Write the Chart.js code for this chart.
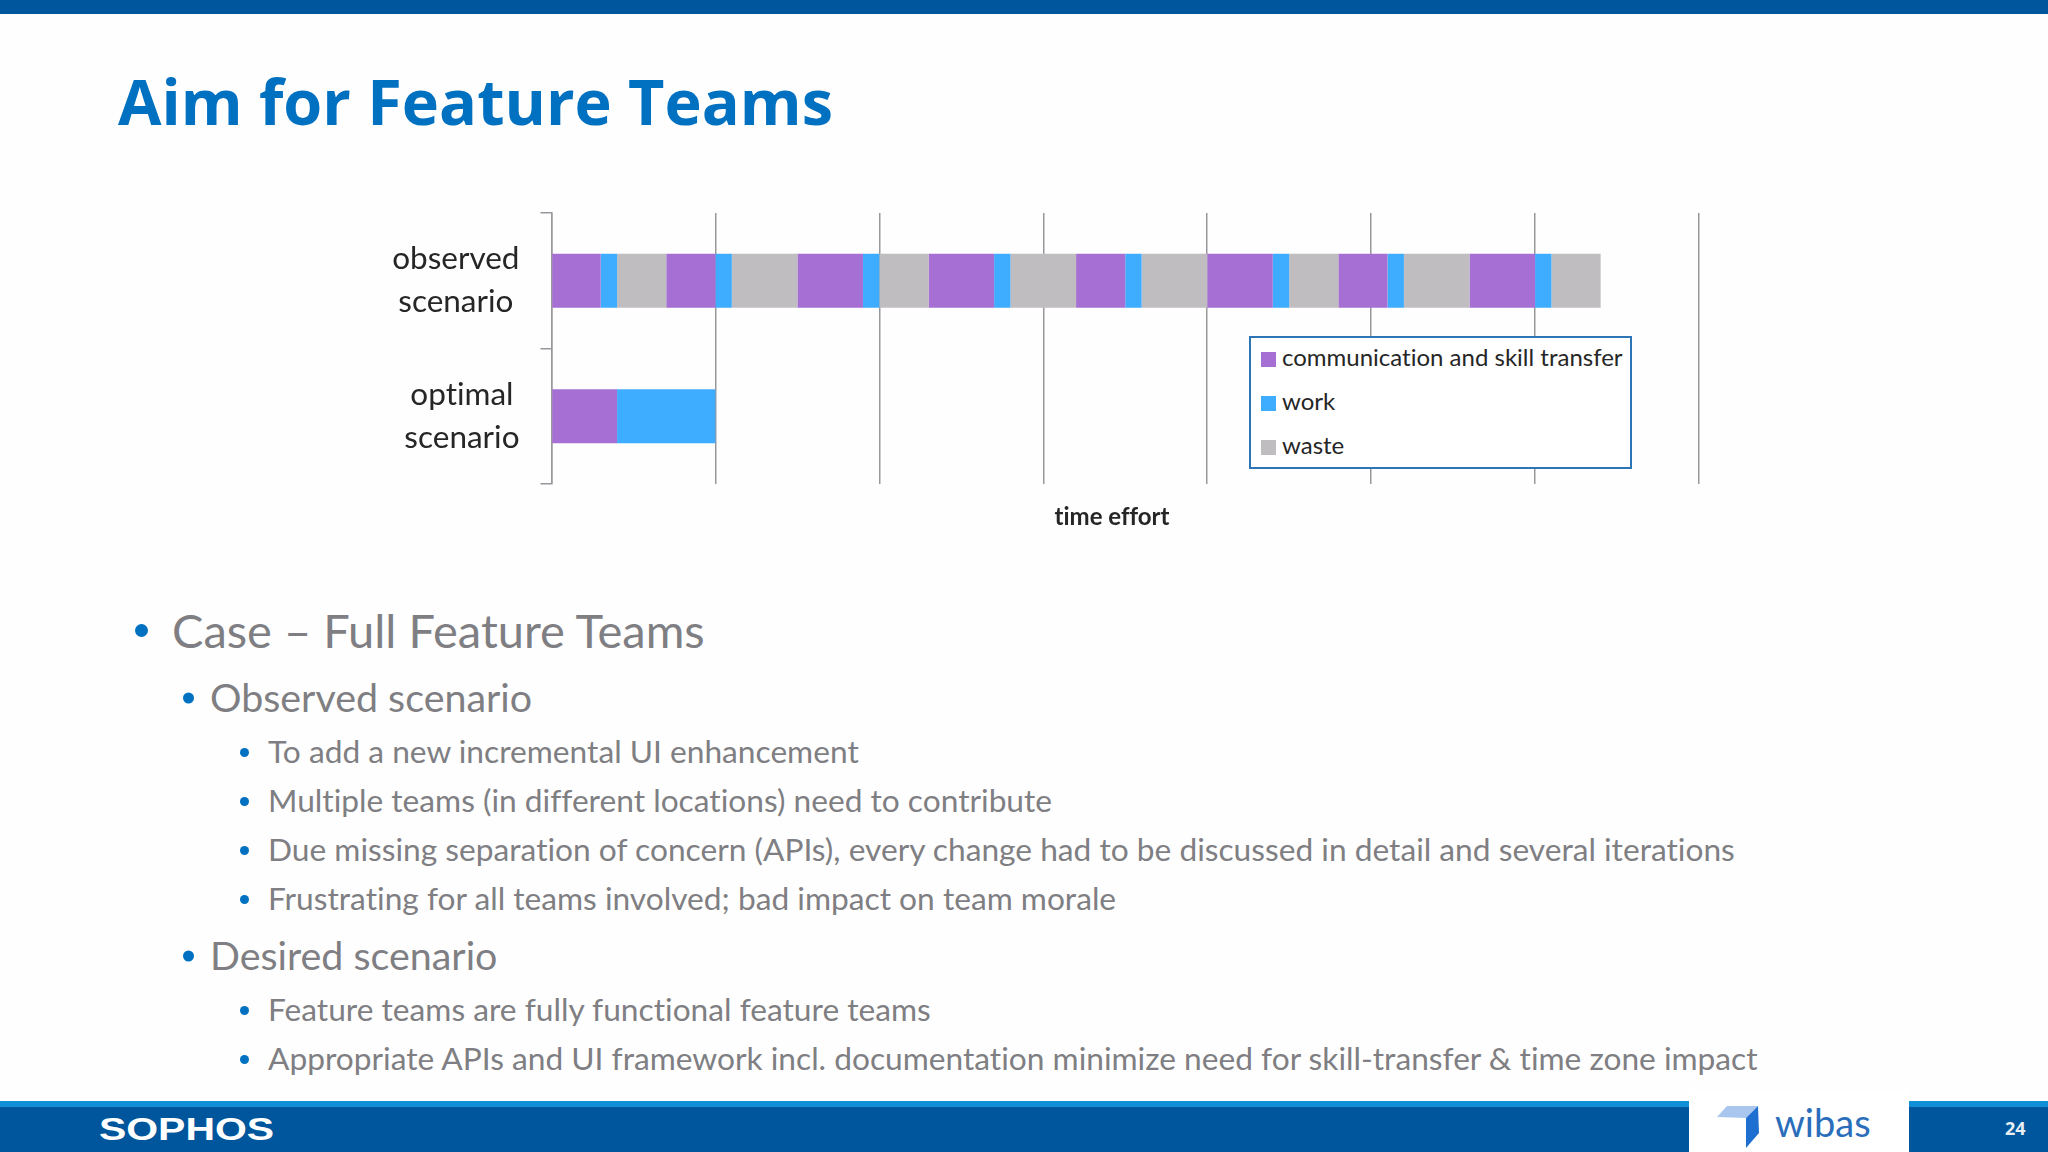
<!DOCTYPE html>
<html>
<head>
<meta charset="utf-8">
<title>Aim for Feature Teams</title>
<script src="https://cdn.jsdelivr.net/npm/chart.js@4/dist/chart.umd.min.js"></script>
<style>
  html, body { margin: 0; padding: 0; background: #fefefe; }
  #slide { position: relative; width: 2048px; height: 1152px; overflow: hidden; font-family: Lato, sans-serif; font-variant-ligatures: none; }
  #topbar { position: absolute; left: 0; top: 0; width: 2048px; height: 14px; background: #00569c; }
  h1 { position: absolute; left: 118px; top: 59px; margin: 0; font: bold 63px "Open Sans", sans-serif; line-height: 84px; color: #0070c0; white-space: nowrap; }
  #chart { position: absolute; left: 360px; top: 200px; }

  #legend { position: absolute; left: 1249px; top: 336px; width: 379px; height: 129px; background: #fff; border: 2px solid #2e75b6; }
  .legend-item { position: absolute; left: 10px; height: 28px; line-height: 28px; font-size: 24px; color: #262626; white-space: nowrap; }
  .legend-item i { display: inline-block; width: 15px; height: 15px; margin-right: 6px; vertical-align: -1px; }

  .line { position: absolute; white-space: nowrap; color: #7f7f83; transform: translateY(-50%); }
  .line::before { content: ""; position: absolute; border-radius: 50%; background: #0070c0; }
  .l1 { left: 172px; font-size: 47px; }
  .l1::before { left: -37px; top: 50%; width: 13px; height: 13px; margin-top: -6px; }
  .l2 { left: 210px; font-size: 39.4px; }
  .l2::before { left: -27px; top: 50%; width: 11px; height: 11px; margin-top: -4px; }
  .l3 { left: 268px; font-size: 31.7px; }
  .l3::before { left: -28px; top: 50%; width: 9px; height: 9px; margin-top: -3px; }

  #footer { position: absolute; left: 0; top: 1101px; width: 2048px; height: 51px; background: #00569c; border-top: 6px solid #0f8fd6; box-sizing: border-box; }
  #logo-gap { position: absolute; left: 1689px; top: 1090px; width: 220px; height: 62px; background: #fff; }
  #sophos { position: absolute; left: 99px; top: 1115px; font: bold 31px "Liberation Sans", sans-serif; line-height: 30px; color: #fff; transform-origin: left center; transform: scaleX(1.32); }
  #wibas-mark { position: absolute; left: 1716px; top: 1100px; }
  #wibas { position: absolute; left: 1775px; top: 1099px; font-size: 38px; line-height: 46px; color: #2a6ebb; }
  #page { position: absolute; left: 2005px; top: 1116px; font: bold 18px "Open Sans", sans-serif; line-height: 24px; color: #e8eef5; }
</style>
</head>
<body>
<div id="slide">
  <div id="topbar"></div>
  <h1>Aim for Feature Teams</h1>
  <canvas id="chart" width="1504" height="341"></canvas>
  <div id="legend"></div>

  <div class="line l1" style="top:630px">Case – Full Feature Teams</div>
  <div class="line l2" style="top:696px">Observed scenario</div>
  <div class="line l3" style="top:751px">To add a new incremental UI enhancement</div>
  <div class="line l3" style="top:800px">Multiple teams (in different locations) need to contribute</div>
  <div class="line l3" style="top:849px">Due missing separation of concern (APIs), every change had to be discussed in detail and several iterations</div>
  <div class="line l3" style="top:898px">Frustrating for all teams involved; bad impact on team morale</div>
  <div class="line l2" style="top:954px">Desired scenario</div>
  <div class="line l3" style="top:1009px">Feature teams are fully functional feature teams</div>
  <div class="line l3" style="top:1058px">Appropriate APIs and UI framework incl. documentation minimize need for skill-transfer &amp; time zone impact</div>

  <div id="footer"></div>
  <div id="logo-gap"></div>
  <div id="sophos">SOPHOS</div>
  <svg id="wibas-mark" width="50" height="52">
    <polygon points="1,17 11,6 42,6 30,18" fill="#a9c6ee"/>
    <polygon points="30,18 42,6 43,33 30,48" fill="#1f6fd0"/>
  </svg>
  <div id="wibas">wibas</div>
  <div id="page">24</div>
</div>

<script>
const categories = [['observed', 'scenario'], ['optimal', 'scenario']];
const seriesNames = ['communication and skill transfer', 'work', 'waste'];
const seriesColors = ['#a66fd3', '#3fadff', '#bfbdbf'];
const xAxisTitle = 'time effort';

// one entry per round of the observed bar
const observedComm = [0.3, 0.3, 0.4, 0.4, 0.3, 0.4, 0.3, 0.4];
const observedWork = [0.1, 0.1, 0.1, 0.1, 0.1, 0.1, 0.1, 0.1];
const observedWaste = [0.3, 0.4, 0.3, 0.4, 0.4, 0.3, 0.4, 0.3];

// the optimal bar only has a single round
const optimalComm = [0.4];
const optimalWork = [0.6];
const optimalWaste = [0];

const axisMax = 7;
const axisColor = '#98989c';

function buildDatasets() {
  const observed = [observedComm, observedWork, observedWaste];
  const optimal = [optimalComm, optimalWork, optimalWaste];
  const datasets = [];
  observedComm.forEach((_, round) => {
    seriesNames.forEach((name, s) => {
      datasets.push({
        label: name,
        data: [observed[s][round], optimal[s][round] || 0],
        backgroundColor: seriesColors[s],
        borderWidth: 0,
        barPercentage: 0.4,
        categoryPercentage: 1,
      });
    });
  });
  return datasets;
}

function buildLegend() {
  const legend = document.getElementById('legend');
  seriesNames.forEach((name, s) => {
    const item = document.createElement('div');
    item.className = 'legend-item';
    item.style.top = (5 + s * 44) + 'px';
    const swatch = document.createElement('i');
    swatch.style.background = seriesColors[s];
    item.appendChild(swatch);
    item.appendChild(document.createTextNode(name));
    legend.appendChild(item);
  });
}

// Chart.js can only right align multi-line ticks and centres axis titles on the plot,
// the slide has the ticks centred in a right aligned block and the title off centre
const slideLabels = {
  id: 'slideLabels',
  afterDraw(chart) {
    const { ctx, scales } = chart;
    const y = scales.y;
    ctx.save();
    ctx.font = '31.5px Lato';
    ctx.fontKerning = 'normal';
    ctx.fillStyle = '#262626';
    ctx.textAlign = 'center';
    ctx.textBaseline = 'middle';
    categories.forEach((lines, i) => {
      const blockWidth = Math.max(...lines.map(l => ctx.measureText(l).width));
      const cx = y.right - 32 - blockWidth / 2;
      const cy = y.getPixelForTick(i);
      lines.forEach((line, n) => {
        ctx.fillText(line, cx, cy + (n - (lines.length - 1) / 2) * 43);
      });
    });
    ctx.font = 'bold 24px Lato';
    ctx.fillText(xAxisTitle, chart.width / 2, scales.x.bottom + 33);
    ctx.restore();
  }
};

buildLegend();

new Chart(document.getElementById('chart').getContext('2d'), {
  type: 'bar',
  data: {
    labels: categories,
    datasets: buildDatasets(),
  },
  options: {
    indexAxis: 'y',
    responsive: false,
    animation: false,
    layout: { padding: { top: 13, right: 165, bottom: 57, left: 0 } },
    scales: {
      x: {
        stacked: true,
        min: 0,
        max: axisMax,
        border: { display: false },
        grid: { color: axisColor, lineWidth: 1.5, drawTicks: false },
        ticks: { display: false, stepSize: 1 },
      },
      y: {
        stacked: true,
        afterFit: scale => { scale.width = 191.5; },
        border: { color: axisColor, width: 1.5 },
        grid: { color: axisColor, lineWidth: 1.5, drawOnChartArea: false, tickLength: 11 },
        ticks: { display: false },
      },
    },
    plugins: {
      legend: { display: false },
      tooltip: { enabled: false },
    },
  },
  plugins: [slideLabels],
});
</script>
</body>
</html>
